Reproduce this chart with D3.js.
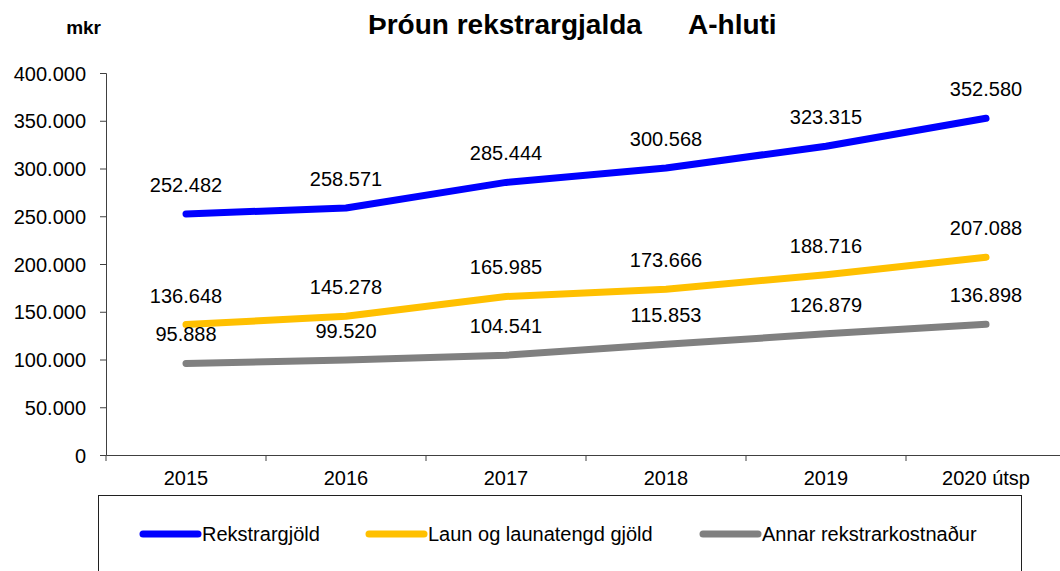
<!DOCTYPE html>
<html>
<head>
<meta charset="utf-8">
<script src="https://cdn.jsdelivr.net/npm/d3@7"></script>
<style>
  body { margin: 0; background: #fff; }
  text { font-family: "Liberation Sans", Arial, sans-serif; fill: #000; }
</style>
</head>
<body>
<svg id="root" width="1060" height="571"></svg>
<script>
const years = ['2015', '2016', '2017', '2018', '2019', '2020 útsp'];
const rekstrargjold = [252482, 258571, 285444, 300568, 323315, 352580];
const laun = [136648, 145278, 165985, 173666, 188716, 207088];
const annar = [95888, 99520, 104541, 115853, 126879, 136898];
const yTicks = [0, 50000, 100000, 150000, 200000, 250000, 300000, 350000, 400000];
const seriesNames = ['Rekstrargjöld', 'Laun og launatengd gjöld', 'Annar rekstrarkostnaður'];
const seriesColors = ['#0000ff', '#ffc000', '#808080'];

const series = [rekstrargjold, laun, annar].map((values, i) => ({
  name: seriesNames[i],
  color: seriesColors[i],
  values,
}));

const locale = d3.formatLocale({ decimal: ',', thousands: '.', grouping: [3], currency: ['', ''] });
const fmt = locale.format(',d');

const svg = d3.select('#root');
const plot = { left: 106, right: 1066, top: 73, bottom: 455 };

const x = d3.scaleBand().domain(years).range([plot.left, plot.right]);
const y = d3.scaleLinear().domain([0, 400000]).range([plot.bottom, plot.top]);

// title
svg.append('text')
  .attr('x', 368).attr('y', 34)
  .attr('font-size', 28).attr('font-weight', 'bold')
  .text('Þróun rekstrargjalda');
svg.append('text')
  .attr('x', 688).attr('y', 34)
  .attr('font-size', 28).attr('font-weight', 'bold')
  .text('A-hluti');
svg.append('text')
  .attr('x', 101).attr('y', 34)
  .attr('text-anchor', 'end')
  .attr('font-size', 19).attr('font-weight', 'bold')
  .text('mkr');

// y axis
const yAxis = svg.append('g')
  .attr('transform', `translate(${plot.left},0)`)
  .call(d3.axisLeft(y).tickValues(yTicks).tickSize(6).tickPadding(14).tickFormat(d => fmt(d)));
yAxis.select('.domain').attr('stroke', '#404040');
yAxis.selectAll('.tick line').attr('stroke', '#404040');
yAxis.selectAll('.tick text')
  .attr('font-size', 20).attr('font-family', '"Liberation Sans", Arial, sans-serif')
  .attr('fill', '#000').attr('dy', '0.35em');

// x axis
const xAxis = svg.append('g')
  .attr('transform', `translate(0,${plot.bottom})`)
  .call(d3.axisBottom(x).tickSize(0).tickPadding(16));
xAxis.select('.domain').attr('stroke', '#404040');
xAxis.selectAll('.tick text')
  .attr('font-size', 20).attr('font-family', '"Liberation Sans", Arial, sans-serif')
  .attr('fill', '#000').attr('dy', '0.71em');
// category boundary ticks
xAxis.selectAll('.bound')
  .data(years)
  .enter()
  .append('line')
  .attr('class', 'bound')
  .attr('x1', d => x(d)).attr('x2', d => x(d))
  .attr('y1', 0).attr('y2', 6)
  .attr('stroke', '#404040');

// lines
const line = d3.line()
  .x((d, i) => x(years[i]) + x.bandwidth() / 2)
  .y(d => y(d));

const g = svg.append('g');
g.selectAll('.series')
  .data(series)
  .enter()
  .append('path')
  .attr('class', 'series')
  .attr('fill', 'none')
  .attr('stroke', d => d.color)
  .attr('stroke-width', 7)
  .attr('stroke-linecap', 'round')
  .attr('stroke-linejoin', 'round')
  .attr('d', d => line(d.values));

// data labels
series.forEach(s => {
  g.selectAll(null)
    .data(s.values)
    .enter()
    .append('text')
    .attr('x', (d, i) => x(years[i]) + x.bandwidth() / 2)
    .attr('y', d => y(d) - 22)
    .attr('text-anchor', 'middle')
    .attr('font-size', 20)
    .text(d => fmt(d));
});

// legend
svg.append('rect')
  .attr('x', 98.5).attr('y', 495.5)
  .attr('width', 923).attr('height', 100)
  .attr('fill', '#fff').attr('stroke', '#202020');

const legendX = [143, 369, 703];
const leg = svg.selectAll('.legend')
  .data(series)
  .enter()
  .append('g')
  .attr('class', 'legend')
  .attr('transform', (d, i) => `translate(${legendX[i]},534)`);
leg.append('line')
  .attr('x1', 0).attr('x2', 55)
  .attr('stroke', d => d.color)
  .attr('stroke-width', 7)
  .attr('stroke-linecap', 'round');
leg.append('text')
  .attr('x', 59).attr('y', 7)
  .attr('font-size', 20)
  .text(d => d.name);
</script>
</body>
</html>
